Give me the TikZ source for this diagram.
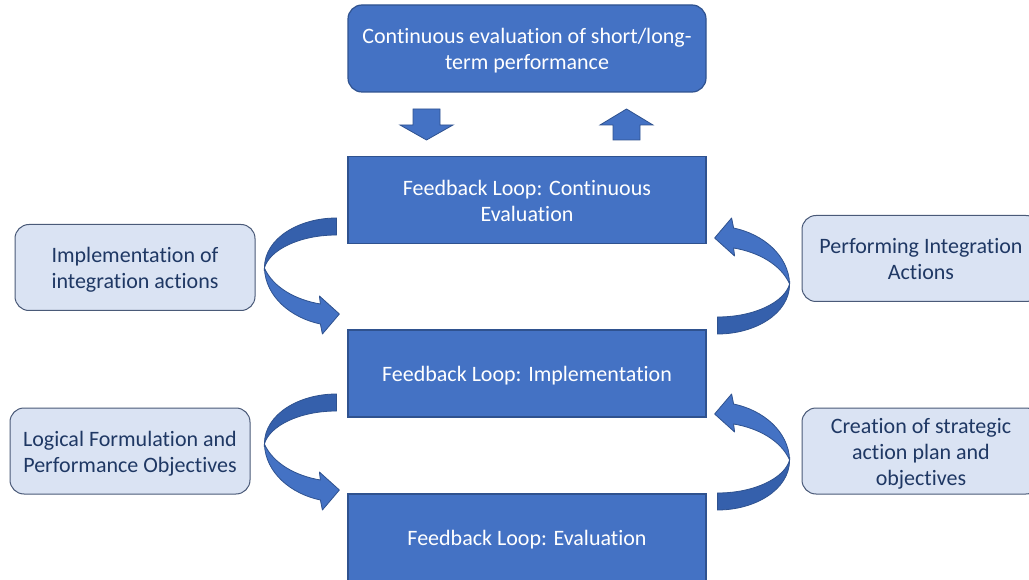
\documentclass[tikz,border=0pt]{standalone}
\usepackage{fontspec}
\setmainfont{Carlito}[Ligatures=NoCommon]
\usetikzlibrary{calc}

\definecolor{boxblue}{HTML}{4472C4}
\definecolor{edgeblue}{HTML}{2F528F}
\definecolor{backblue}{HTML}{3560AC}
\definecolor{paleblue}{HTML}{DAE3F3}
\definecolor{paleedge}{HTML}{4A5A78}
\definecolor{navytext}{HTML}{1F3864}

% centred lines, drawn slightly below the middle of their box
\newcommand\boxlines[1]{\raisebox{-3pt}[\height][\depth]{\begin{tabular}{@{}c@{}}#1\end{tabular}}}

\tikzset{
  txt/.style={font=\fontsize{22}{26}\selectfont, inner sep=0pt},
  loopbox/.style={txt, draw=edgeblue, line width=1.2pt, fill=boxblue, text=white,
    minimum width=358pt, minimum height=87pt},
  topbox/.style={loopbox, rounded corners=14pt},
  sidebox/.style={txt, draw=paleedge, line width=1pt, fill=paleblue, text=navytext,
    rounded corners=14pt, minimum height=86pt},
  blockarrow/.style={fill=boxblue, draw=edgeblue, line width=0.8pt},
  % U-turn ribbon arrow, origin at the upper corner of its tail
  uturn/.pic={
    \filldraw[fill=backblue, draw=edgeblue, line width=0.8pt]
      (0,0) .. controls (-37,0) and (-72,20) .. (-72,50)
      .. controls (-67,32) and (-37,17) .. (0,17) -- cycle;
    \filldraw[fill=boxblue, draw=edgeblue, line width=0.8pt, line join=round]
      (-72,50) .. controls (-71,79) and (-45,100) .. (-16,106)
      -- (-14,116) -- (3,96) -- (-17,78) -- (-16,86)
      .. controls (-40,82) and (-63,70) .. (-72,50) -- cycle;
  }
}

\begin{document}
\begin{tikzpicture}[x=1pt, y=-1pt]
\useasboundingbox (0,0) rectangle (1029,580);
\clip (0,0) rectangle (1029,580);

% central column
\node[topbox] (perf) at (527,48.5) {\boxlines{Continuous evaluation of short/long-\\term performance}};
\node[loopbox] (fb1) at (527,200) {\boxlines{Feedback Loop: Continuous\\Evaluation}};
\node[loopbox] (fb2) at (527,373.5) {\boxlines{Feedback Loop: Implementation}};
\node[loopbox] (fb3) at (527,537.5) {\boxlines{Feedback Loop: Evaluation}};

% side notes
\node[sidebox, minimum width=240pt] (impl) at (135,267.5) {\boxlines{Implementation of\\integration actions}};
\node[sidebox, minimum width=240pt] (logic) at (130,451) {\boxlines{Logical Formulation and\\Performance Objectives}};
\node[sidebox, minimum width=238pt] (perfint) at (921,258.5) {\boxlines{Performing Integration\\Actions}};
\node[sidebox, minimum width=238pt] (create) at (921,451) {\boxlines{Creation of strategic\\action plan and\\objectives}};

% block arrows between the top box and the first loop
\filldraw[blockarrow] (413,109) -- (440,109) -- (440,125) -- (453,125)
  -- (426.5,140) -- (400,125) -- (413,125) -- cycle;
\filldraw[blockarrow] (613,140) -- (640,140) -- (640,125) -- (653,125)
  -- (626.5,109) -- (600,125) -- (613,125) -- cycle;

% ribbon arrows linking the loops
\pic at ($(fb1.west)+(-11,18)$) {uturn};
\pic at ($(fb2.west)+(-11,20.5)$) {uturn};
\pic[rotate=180] at ($(fb2.east)+(11,-39.5)$) {uturn};
\pic[rotate=180] at ($(fb3.east)+(11,-27.5)$) {uturn};
\end{tikzpicture}
\end{document}
